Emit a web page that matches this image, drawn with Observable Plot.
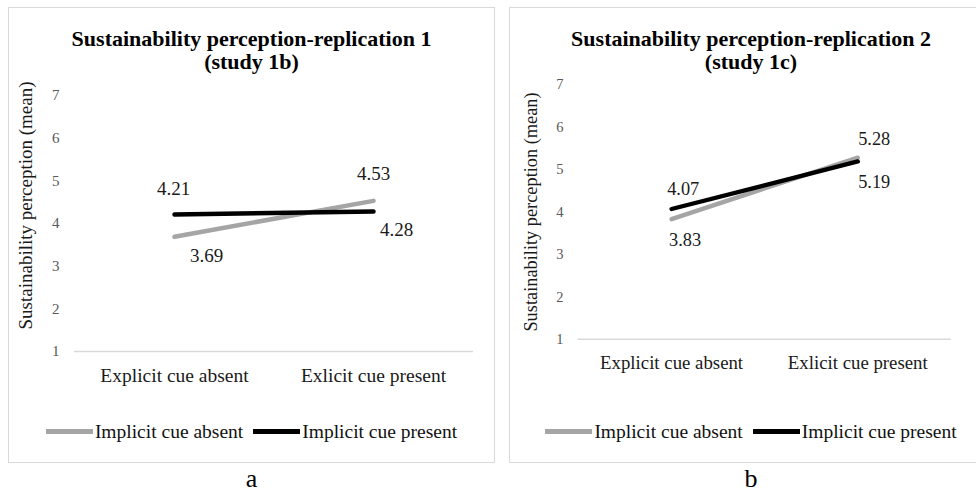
<!DOCTYPE html>
<html><head><meta charset="utf-8">
<script src="https://cdn.jsdelivr.net/npm/d3@7"></script>
<script src="https://cdn.jsdelivr.net/npm/@observablehq/plot@0.6"></script>
<style>
html,body{margin:0;padding:0;}
body{background:#fff;width:976px;height:492px;overflow:hidden;position:relative;font-family:"Liberation Serif","Times New Roman",serif;}
.panel{position:absolute;border:1.5px solid #d9d9d9;box-sizing:border-box;}
.title{position:absolute;text-align:center;font-weight:bold;font-size:22px;line-height:23px;color:#000;}
.legend{position:absolute;display:flex;justify-content:center;align-items:center;font-size:19.5px;line-height:22px;color:#111;}
.sw{width:47px;height:4.5px;margin-right:2px;}
.gap{width:10px;}
.tag{position:absolute;text-align:center;font-size:26px;line-height:26px;color:#000;}
.chart{position:absolute;}
</style></head><body>
<script>
// ---- data ----
const categories = ["Explicit cue absent", "Exlicit cue present"];
const series = ["Implicit cue absent", "Implicit cue present"];
const seriesColors = ["#a5a5a5", "#000000"];
const study1b_absent = [3.69, 4.53];
const study1b_present = [4.21, 4.28];
const study1c_absent = [3.83, 5.28];
const study1c_present = [4.07, 5.19];
const yTicks = [1, 2, 3, 4, 5, 6, 7];
const yLabel = "Sustainability perception (mean)";
const titleA = ["Sustainability perception-replication 1", "(study 1b)"];
const titleB = ["Sustainability perception-replication 2", "(study 1c)"];
const tags = ["a", "b"];

// ---- label placement (style) : [series index][category index] -> [dx, dy]
const offsA = [[[32, 19], [0, -27]], [[-1, -26], [23, 18.5]]];
const offsB = [[[14, 22], [17, -19]], [[12, -21], [17, 21]]];

function rows(absent, present) {
  const out = [];
  [absent, present].forEach((vals, s) => vals.forEach((v, c) => out.push({cat: categories[c], series: series[s], value: v, si: s, ci: c})));
  return out;
}

function panel(cfg) {
  const body = document.body;
  const p = document.createElement("div");
  p.className = "panel";
  Object.assign(p.style, {left: cfg.left + "px", top: "7px", width: cfg.width + "px", height: "456px"});
  body.appendChild(p);

  const t = document.createElement("div");
  t.className = "title";
  Object.assign(t.style, {left: cfg.left + "px", width: cfg.width + "px", top: "27px"});
  t.innerHTML = cfg.title.map(s => `<div>${s}</div>`).join("");
  body.appendChild(t);

  const data = rows(cfg.absent, cfg.present);
  const labelMarks = data.map(d => Plot.text([d], {
    x: "cat", y: "value", text: d => d.value.toFixed(2),
    dx: cfg.offs[d.si][d.ci][0], dy: cfg.offs[d.si][d.ci][1],
    fontSize: 19, fill: "#1a1a1a"
  }));

  const chart = Plot.plot({
    width: cfg.width, height: cfg.height,
    marginLeft: cfg.ml, marginRight: cfg.mr, marginTop: 25, marginBottom: cfg.mb,
    style: {fontFamily: "Liberation Serif, Times New Roman, serif", fontSize: "15px", background: "transparent", overflow: "visible"},
    x: {type: "point", domain: categories, padding: 0.5},
    y: {domain: [1, 7]},
    color: {domain: series, range: seriesColors},
    marks: [
      Plot.ruleY([1], {stroke: "#d9d9d9", strokeWidth: 1.5}),
      Plot.axisY({ticks: yTicks, tickSize: 0, tickPadding: 15, fill: "#595959", fontSize: 15, label: null, tickFormat: d3.format("d")}),
      Plot.axisX({tickSize: 0, tickPadding: 17, fill: "#1a1a1a", fontSize: 19.5, label: null}),
      Plot.text([yLabel], {frameAnchor: "left", textAnchor: "middle", dx: -49, dy: cfg.labelDy, rotate: -90, fontSize: 19, fill: "#1a1a1a"}),
      Plot.line(data, {x: "cat", y: "value", z: "series", stroke: "series", strokeWidth: 4.5, strokeLinecap: "round"}),
      ...labelMarks
    ]
  });
  const wrap = document.createElement("div");
  wrap.className = "chart";
  Object.assign(wrap.style, {left: cfg.left + "px", top: cfg.top + "px"});
  wrap.appendChild(chart);
  body.appendChild(wrap);

  const lg = document.createElement("div");
  lg.className = "legend";
  Object.assign(lg.style, {left: cfg.left + "px", width: cfg.width + "px", top: "420.5px"});
  lg.innerHTML = series.map((s, i) => `<div class="sw" style="background:${seriesColors[i]}"></div><span>${s}</span>`).join('<div class="gap"></div>');
  body.appendChild(lg);

  const tg = document.createElement("div");
  tg.className = "tag";
  Object.assign(tg.style, {left: cfg.left + "px", width: cfg.width + "px", top: "466px"});
  tg.textContent = cfg.tag;
  body.appendChild(tg);
}

panel({left: 8, width: 487, top: 70, height: 320, ml: 66, mr: 22, mb: 39, labelDy: -18,
  title: titleA, absent: study1b_absent, present: study1b_present, offs: offsA, tag: tags[0]});
panel({left: 509, width: 484, top: 60, height: 330, ml: 71, mr: 26, mb: 41, labelDy: 0,
  title: titleB, absent: study1c_absent, present: study1c_present, offs: offsB, tag: tags[1]});
</script>
</body></html>
